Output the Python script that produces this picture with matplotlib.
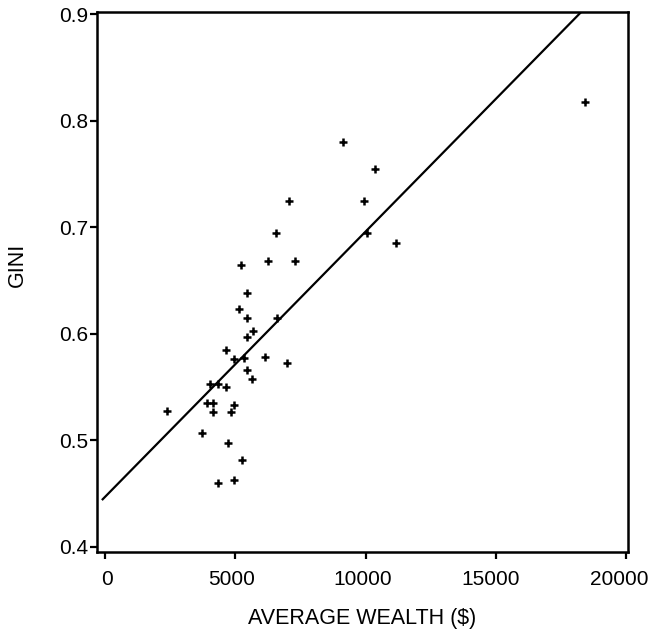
import numpy as np
import matplotlib
matplotlib.use("Agg")
import matplotlib.pyplot as plt
from matplotlib.transforms import ScaledTranslation

plt.rcParams['font.family'] = ['Liberation Sans', 'DejaVu Sans']

# data: average wealth ($) and gini
wealth = [5440, 5144, 5451, 6591, 5670, 5440, 4633, 4941, 5348, 6154,
          6998, 5440, 5655, 4019, 4326, 4633, 3904, 4134, 4134, 4952,
          4837, 2369, 3712, 4733, 5248, 4326, 4941, 9125, 10353, 7075,
          9943, 6564, 10046, 11183, 5232, 6257, 7282, 18434]
gini = [0.638, 0.623, 0.615, 0.615, 0.603, 0.597, 0.585, 0.576, 0.577, 0.578,
        0.573, 0.566, 0.558, 0.553, 0.553, 0.550, 0.535, 0.535, 0.527, 0.533,
        0.527, 0.528, 0.507, 0.498, 0.482, 0.460, 0.463, 0.780, 0.755, 0.725,
        0.725, 0.695, 0.695, 0.685, 0.665, 0.668, 0.668, 0.818]

# fitted line
intercept = 0.447
slope = 2.489e-5
line_x = np.array([-90, 18500])

xticks = [0, 5000, 10000, 15000, 20000]
yticks = [0.4, 0.5, 0.6, 0.7, 0.8, 0.9]

fig = plt.figure(figsize=(6.52, 6.31), dpi=100)
ax = fig.add_axes([0.1488, 0.1252, 0.8144, 0.8558])

ax.plot(wealth, gini, linestyle='none', marker='+', color='black',
        markersize=5.5, markeredgewidth=1.8)
ax.plot(line_x, intercept + slope * line_x, color='black', linewidth=1.6)

ax.set_xlim(-307, 20077)
ax.set_ylim(0.3953, 0.902)
ax.set_xticks(xticks)
ax.set_yticks(yticks)
ax.set_yticklabels(['%.1f' % v for v in yticks])

for s in ax.spines.values():
    s.set_linewidth(1.8)
ax.tick_params(axis='both', direction='out', length=5, width=1.6,
               labelsize=15, color='black')
ax.tick_params(axis='x', pad=8)
ax.tick_params(axis='y', pad=1.5)

# the x labels sit a bit left of their ticks in the original
shifts = [1.5, -3.5, -3, -5.5, -6.5]
for lab, dx in zip(ax.get_xticklabels(), shifts):
    lab.set_transform(lab.get_transform() + ScaledTranslation(dx / 100, 0, fig.dpi_scale_trans))

ax.set_xlabel("AVERAGE WEALTH ($)", fontsize=15.5)
ax.set_ylabel("GINI", fontsize=15.5)
ax.xaxis.set_label_coords(0.5, -0.104)
ax.yaxis.set_label_coords(-0.130, 0.531)

fig.savefig("out.png", dpi=100)
